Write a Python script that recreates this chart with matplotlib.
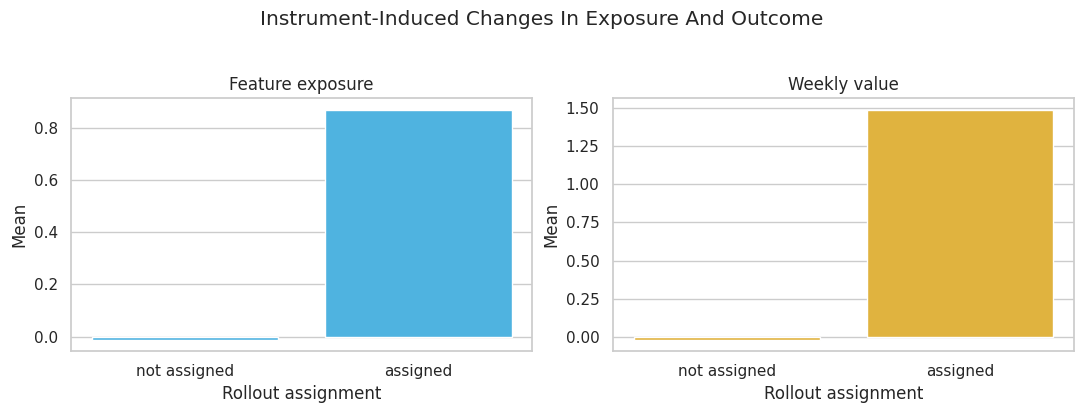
import matplotlib
matplotlib.use("Agg")
import matplotlib.pyplot as plt
import seaborn as sns

# Group labels and mean values
groups = ["not assigned", "assigned"]
exposure_means = [-0.011, 0.870]
value_means = [-0.017, 1.489]

sns.set_theme(style="whitegrid")

fig, axes = plt.subplots(1, 2, figsize=(10.84, 4.13), dpi=100)

panels = [
    (axes[0], exposure_means, "#4fb3e0", "Feature exposure"),
    (axes[1], value_means, "#e0b33f", "Weekly value"),
]
for ax, vals, col, title in panels:
    ax.bar(groups, vals, width=0.8, color=col, edgecolor="white", linewidth=1)
    ax.set_title(title)
    ax.set_xlabel("Rollout assignment")
    ax.set_ylabel("Mean")
    ax.grid(axis="x", visible=False)

axes[1].set_yticks([0.0, 0.25, 0.5, 0.75, 1.0, 1.25, 1.5])
axes[1].yaxis.set_major_formatter(matplotlib.ticker.FormatStrFormatter("%.2f"))

fig.suptitle("Instrument-Induced Changes In Exposure And Outcome", fontsize=14.5, y=0.975)
fig.subplots_adjust(left=0.0655, right=0.9908, top=0.7627, bottom=0.150, wspace=0.1735)
fig.savefig("out.png")
